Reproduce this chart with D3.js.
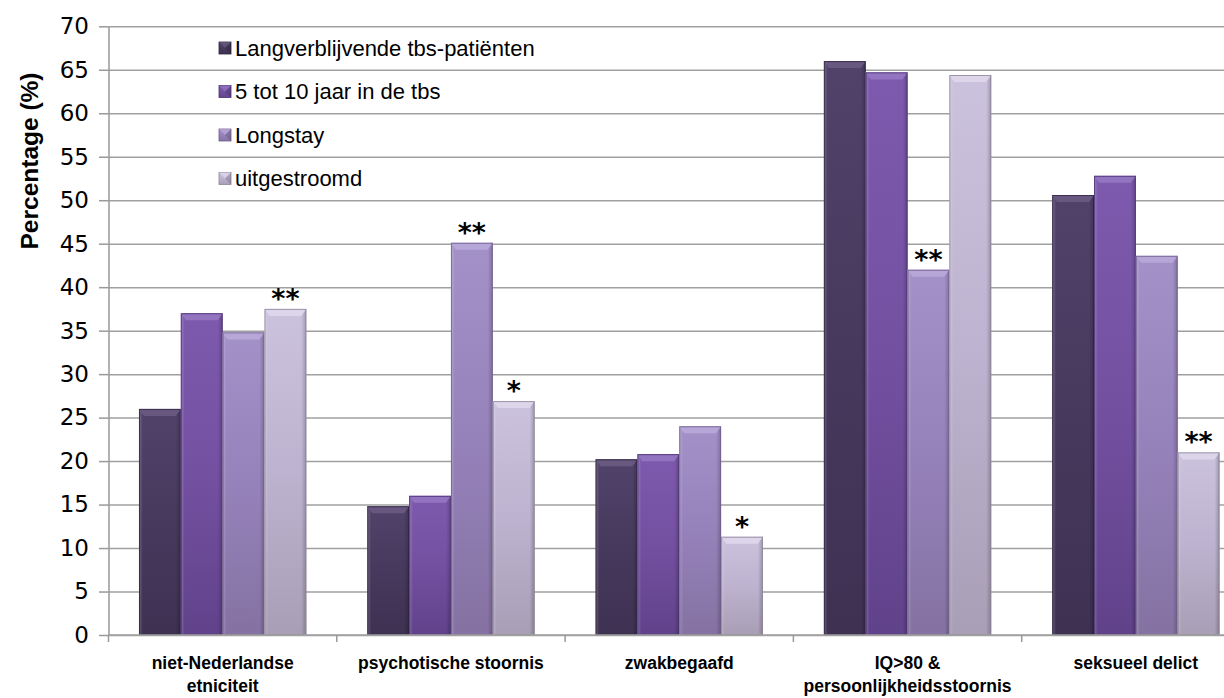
<!DOCTYPE html>
<html>
<head>
<meta charset="utf-8">
<script src="https://cdn.jsdelivr.net/npm/d3@7"></script>
<style>
  html, body { margin: 0; padding: 0; background: #fff; }
  svg { display: block; }
</style>
</head>
<body>
<svg id="chart" width="1224" height="698"></svg>
<script>
// ---- data ----
const categories = ["niet-Nederlandse etniciteit", "psychotische stoornis", "zwakbegaafd", "IQ>80 & persoonlijkheidsstoornis", "seksueel delict"];
const categoryLines = [["niet-Nederlandse", "etniciteit"], ["psychotische stoornis"], ["zwakbegaafd"], ["IQ>80 &", "persoonlijkheidsstoornis"], ["seksueel delict"]];
const seriesNames = ["Langverblijvende tbs-patiënten", "5 tot 10 jaar in de tbs", "Longstay", "uitgestroomd"];
const langverblijvend = [26.0, 14.8, 20.2, 66.0, 50.6];
const vijfTotTien = [37.0, 16.0, 20.8, 64.7, 52.8];
const longstay = [34.8, 45.1, 24.0, 42.0, 43.6];
const uitgestroomd = [37.5, 26.9, 11.3, 64.4, 21.0];
const sigLongstay = ["", "**", "", "**", ""];
const sigUitgestroomd = ["**", "*", "*", "", "**"];
const yTicks = [0, 5, 10, 15, 20, 25, 30, 35, 40, 45, 50, 55, 60, 65, 70];

const seriesValues = [langverblijvend, vijfTotTien, longstay, uitgestroomd];
const seriesSig = [["", "", "", "", ""], ["", "", "", "", ""], sigLongstay, sigUitgestroomd];

// ---- styles ----
const palette = [
  { top: "#51426a", mid: "#47395d", bot: "#3e3152", edge: "#2e2440", bevel: "#6a5b82" },
  { top: "#7e5aae", mid: "#7450a1", bot: "#60428a", edge: "#4a3270", bevel: "#9677c2" },
  { top: "#a491c8", mid: "#9682ba", bot: "#8572a2", edge: "#6f5f8c", bevel: "#b9a9d9" },
  { top: "#cbc2dd", mid: "#bdb3d0", bot: "#a89eb5", edge: "#8e8598", bevel: "#dfd8ec" }
];

const svg = d3.select("#chart");
const W = 1224, H = 698;
const plotLeft = 108.5, plotTop = 26.3, plotBottom = 635;
const step = 228.3;
const plotRight = plotLeft + step * categories.length;

const x0 = d3.scaleBand().domain(categories).range([plotLeft, plotRight]).paddingInner(0.267).paddingOuter(0.1335);
const x1 = d3.scaleBand().domain(seriesNames).range([0, x0.bandwidth()]);
const y = d3.scaleLinear().domain([0, 70]).range([plotBottom, plotTop]);

const defs = svg.append("defs");
palette.forEach((p, i) => {
  const g = defs.append("linearGradient").attr("id", "vg" + i).attr("x1", 0).attr("y1", 0).attr("x2", 0).attr("y2", 1);
  g.append("stop").attr("offset", "0%").attr("stop-color", p.top);
  g.append("stop").attr("offset", "50%").attr("stop-color", p.mid);
  g.append("stop").attr("offset", "100%").attr("stop-color", p.bot);
});
const hg = defs.append("linearGradient").attr("id", "hg").attr("x1", 0).attr("y1", 0).attr("x2", 1).attr("y2", 0);
hg.append("stop").attr("offset", "0%").attr("stop-color", "#fff").attr("stop-opacity", 0.22);
hg.append("stop").attr("offset", "9%").attr("stop-color", "#fff").attr("stop-opacity", 0.0);
hg.append("stop").attr("offset", "88%").attr("stop-color", "#000").attr("stop-opacity", 0.0);
hg.append("stop").attr("offset", "100%").attr("stop-color", "#000").attr("stop-opacity", 0.22);

// ---- gridlines ----
const grid = svg.append("g").attr("transform", `translate(${plotLeft},0)`)
  .call(d3.axisLeft(y).tickValues(yTicks).tickSize(-(W - plotLeft)).tickFormat(""));
grid.select(".domain").remove();
grid.selectAll(".tick line").attr("stroke", "#a0a0a0").attr("stroke-width", 1.5);

// ---- y axis with outer ticks and labels ----
const yAxis = svg.append("g").attr("transform", `translate(${plotLeft},0)`)
  .call(d3.axisLeft(y).tickValues(yTicks).tickSize(9.5).tickSizeOuter(0).tickPadding(10));
yAxis.select(".domain").attr("stroke", "#999").attr("stroke-width", 1.5);
yAxis.selectAll(".tick line").attr("stroke", "#999").attr("stroke-width", 1.5);
yAxis.selectAll(".tick text").attr("font-family", "DejaVu Sans, sans-serif").attr("font-size", 23).attr("fill", "#000");

// ---- bars ----
const groups = svg.append("g").selectAll("g.cat").data(categories).join("g")
  .attr("class", "cat").attr("transform", d => `translate(${x0(d)},0)`);

groups.each(function (cat, ci) {
  const g = d3.select(this);
  seriesNames.forEach((s, si) => {
    const v = seriesValues[si][ci];
    const bx = x1(s), bw = x1.bandwidth();
    const by = y(v), bh = y(0) - y(v);
    const p = palette[si];
    g.append("rect").attr("x", bx).attr("y", by).attr("width", bw).attr("height", bh)
      .attr("fill", `url(#vg${si})`);
    g.append("rect").attr("x", bx).attr("y", by).attr("width", bw).attr("height", bh)
      .attr("fill", "url(#hg)");
    const bev = Math.min(7, bh / 2);
    g.append("polygon")
      .attr("points", [[bx, by], [bx + bw, by], [bx + bw - 5, by + bev], [bx + 5, by + bev]].map(q => q.join(",")).join(" "))
      .attr("fill", p.bevel).attr("opacity", 0.9);
    g.append("rect").attr("x", bx + 0.5).attr("y", by + 0.5).attr("width", bw - 1).attr("height", bh - 1)
      .attr("fill", "none").attr("stroke", p.edge).attr("stroke-width", 1).attr("stroke-opacity", 0.8);
    const sig = seriesSig[si][ci];
    if (sig) {
      g.append("text").attr("x", bx + bw / 2).attr("y", by - 1)
        .attr("text-anchor", "middle")
        .attr("font-family", "DejaVu Sans, sans-serif").attr("font-weight", "bold").attr("font-size", 27)
        .attr("fill", "#000").text(sig);
    }
  });
});

// ---- x axis ----
svg.append("line").attr("x1", plotLeft).attr("x2", W).attr("y1", y(0)).attr("y2", y(0))
  .attr("stroke", "#a0a0a0").attr("stroke-width", 1.5);
d3.range(0, categories.length + 1).forEach(i => {
  const tx = plotLeft + i * x0.step();
  svg.append("line").attr("x1", tx).attr("x2", tx).attr("y1", y(0)).attr("y2", y(0) + 7)
    .attr("stroke", "#999").attr("stroke-width", 1.5);
});
categories.forEach((c, ci) => {
  const cx = x0(c) + x0.bandwidth() / 2;
  const t = svg.append("text").attr("text-anchor", "middle")
    .attr("font-family", "Liberation Sans, Arial, sans-serif").attr("font-weight", "bold").attr("font-size", 17.5)
    .attr("fill", "#000");
  categoryLines[ci].forEach((line, li) => {
    t.append("tspan").attr("x", cx).attr("y", 669 + li * 23).text(line);
  });
});

// ---- y title ----
svg.append("text").attr("transform", "translate(38,161) rotate(-90)")
  .attr("text-anchor", "middle")
  .attr("font-family", "Liberation Sans, Arial, sans-serif").attr("font-weight", "bold").attr("font-size", 24.5)
  .attr("fill", "#000").text("Percentage (%)");

// ---- legend ----
const legendY = [48, 91.5, 135, 178.5];
const lg = svg.append("g");
seriesNames.forEach((s, i) => {
  const p = palette[i];
  const row = lg.append("g").attr("transform", `translate(219,${legendY[i]})`);
  row.append("rect").attr("x", 0).attr("y", -6).attr("width", 12).attr("height", 12)
    .attr("fill", `url(#vg${i})`).attr("stroke", p.edge).attr("stroke-width", 0.8);
  row.append("polygon").attr("points", "0,-6 12,-6 6,0").attr("fill", p.bevel).attr("opacity", 0.7);
  row.append("polygon").attr("points", "12,-6 12,6 6,0").attr("fill", "#000").attr("opacity", 0.15);
  row.append("text").attr("x", 16).attr("y", 0).attr("dy", "0.35em")
    .attr("font-family", "Liberation Sans, Arial, sans-serif").attr("font-size", 22)
    .attr("fill", "#000").text(s);
});
</script>
</body>
</html>
